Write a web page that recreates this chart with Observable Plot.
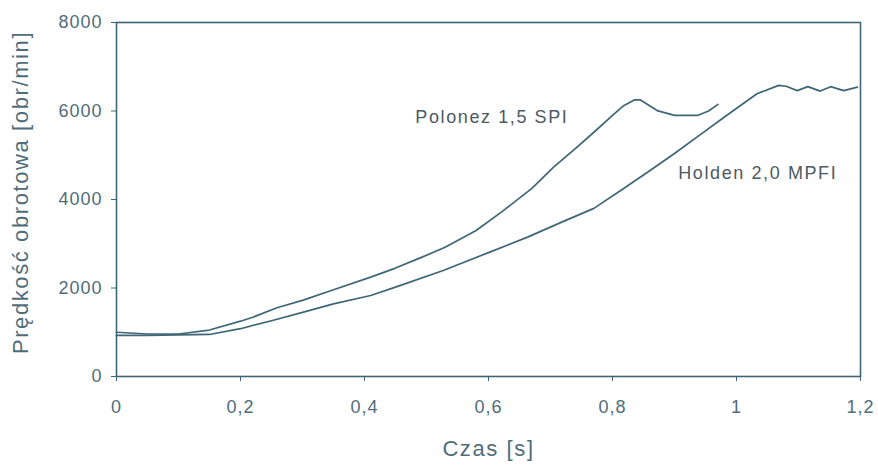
<!DOCTYPE html>
<html>
<head>
<meta charset="utf-8">
<script src="https://cdn.jsdelivr.net/npm/d3@7"></script>
<script src="https://cdn.jsdelivr.net/npm/@observablehq/plot@0.6"></script>
<style>
  html, body { margin: 0; padding: 0; background: #fff; }
  #chart { width: 878px; height: 466px; }
  #chart svg g[aria-label="x-axis tick label"] text,
  #chart svg g[aria-label="y-axis tick label"] text { letter-spacing: 1px; }
  #chart svg g[aria-label="text"] text { letter-spacing: 1.6px; }
</style>
</head>
<body>
<div id="chart"></div>
<script>
// Polonez 1,5 SPI
const tPolonez = [0, 0.05, 0.1, 0.15, 0.2, 0.22, 0.26, 0.3, 0.35, 0.41, 0.45, 0.49, 0.53, 0.58, 0.624, 0.67, 0.705, 0.74, 0.77, 0.8, 0.818, 0.835, 0.845, 0.872, 0.9, 0.937, 0.955, 0.97];
const vPolonez = [1000, 960, 960, 1050, 1250, 1340, 1560, 1720, 1960, 2245, 2450, 2680, 2920, 3300, 3750, 4250, 4730, 5150, 5520, 5900, 6120, 6250, 6250, 6010, 5900, 5900, 6000, 6150];
// Holden 2,0 MPFI
const tHolden = [0, 0.05, 0.1, 0.15, 0.2, 0.25, 0.3, 0.35, 0.41, 0.45, 0.527, 0.6, 0.663, 0.72, 0.77, 0.818, 0.86, 0.9, 0.94, 0.98, 1.033, 1.068, 1.08, 1.098, 1.115, 1.135, 1.152, 1.173, 1.195];
const vHolden = [930, 930, 940, 950, 1080, 1260, 1450, 1640, 1830, 2020, 2395, 2800, 3150, 3500, 3800, 4250, 4650, 5040, 5450, 5860, 6390, 6580, 6560, 6460, 6550, 6450, 6550, 6460, 6540];

const xTicks = [0, 0.2, 0.4, 0.6, 0.8, 1, 1.2];
const yTicks = [0, 2000, 4000, 6000, 8000];

const labelText = ["Polonez 1,5 SPI", "Holden 2,0 MPFI"];
const labelT = [0.482, 0.906];
const labelV = [5850, 4590];

const xTitle = "Czas [s]";
const yTitle = "Prędkość obrotowa [obr/min]";

const lineColor = "#3f6676";
const textColor = "#4f6d7a";

const rows = [
  ...tPolonez.map((t, i) => ({t, v: vPolonez[i], s: "Polonez"})),
  ...tHolden.map((t, i) => ({t, v: vHolden[i], s: "Holden"}))
];
const labels = labelText.map((text, i) => ({text, t: labelT[i], v: labelV[i]}));

const chart = Plot.plot({
  width: 878,
  height: 466,
  marginLeft: 116,
  marginRight: 18,
  marginTop: 22,
  marginBottom: 90,
  style: {fontFamily: "'Liberation Sans', Arial, sans-serif", color: textColor, background: "#fff"},
  x: {domain: [0, 1.2]},
  y: {domain: [0, 8000]},
  marks: [
    Plot.frame({stroke: lineColor, strokeWidth: 1.6}),
    Plot.axisX({ticks: xTicks, tickFormat: d => String(d).replace(".", ","), tickSize: 5, tickPadding: 19, fontSize: 18, label: null, stroke: lineColor}),
    Plot.axisY({ticks: yTicks, tickFormat: d => String(d), tickSize: 5, tickPadding: 9, fontSize: 18, label: null, stroke: lineColor}),
    Plot.line(rows, {x: "t", y: "v", z: "s", stroke: lineColor, strokeWidth: 1.7}),
    Plot.text(labels, {x: "t", y: "v", text: "text", textAnchor: "start", lineAnchor: "middle", fontSize: 18, fill: "#4d5a62"}),
    Plot.text([xTitle], {frameAnchor: "bottom", text: d => d, dy: 72, fontSize: 22, textAnchor: "middle", lineAnchor: "middle", fill: textColor}),
    Plot.text([yTitle], {frameAnchor: "left", text: d => d, dx: -96, dy: -7, rotate: -90, fontSize: 22, textAnchor: "middle", lineAnchor: "middle", fill: textColor})
  ]
});
document.getElementById("chart").appendChild(chart);
</script>
</body>
</html>
